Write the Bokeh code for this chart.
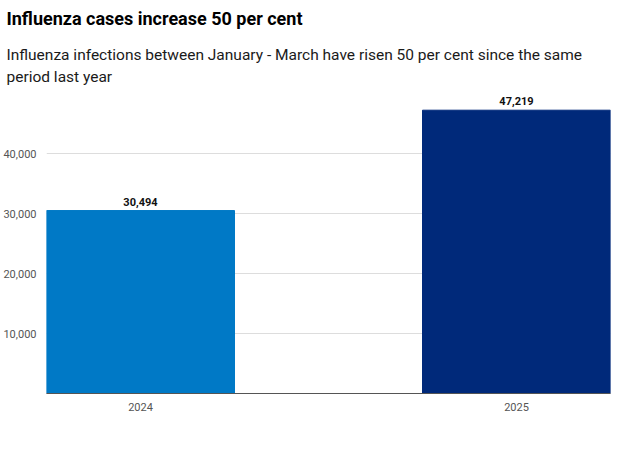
from bokeh.plotting import figure
from bokeh.models import Range1d, Title, FixedTicker, NumeralTickFormatter, ColumnDataSource, LabelSet
from bokeh.core.properties import value
from bokeh.embed import file_html
from bokeh.resources import INLINE

categories = ["2024", "2025"]
cases = [30494, 47219]
colors = ["#0079C6", "#00297A"]
labels = ["30,494", "47,219"]
y_ticks = [10000, 20000, 30000, 40000]

FONT = "Roboto"

xpos = list(range(len(categories)))
src = ColumnDataSource(dict(x=xpos, val=cases, color=colors, label=labels))

p = figure(frame_width=564, frame_height=298, output_backend="svg", toolbar_location=None,
           x_range=Range1d(-0.25, len(categories) - 0.75),
           y_range=Range1d(0, 49667),
           min_border_left=38, min_border_right=15, min_border_top=8, min_border_bottom=0)

p.vbar(x="x", top="val", width=0.5, color="color", source=src)
p.add_layout(LabelSet(x="x", y="val", text="label", source=src, y_offset=5,
                      text_align="center", text_baseline="bottom",
                      text_font=value(FONT), text_font_size=value("11px"),
                      text_font_style="bold", text_color="#111111"))

p.title.visible = False
p.add_layout(Title(text="Influenza infections between January - March have risen 50 per cent since the same\nperiod last year",
                   text_font=FONT, text_font_size="15.5px", text_font_style="normal",
                   text_line_height=1.22,
                   text_color="#1a1a1a", offset=-40, standoff=19), "above")
p.add_layout(Title(text="Influenza cases increase 50 per cent", text_font=FONT, text_font_size="18px",
                   text_font_style="bold", text_color="#000000", offset=-40, standoff=11), "above")

p.yaxis.ticker = FixedTicker(ticks=y_ticks)
p.yaxis.formatter = NumeralTickFormatter(format="0,0")
p.yaxis.axis_line_color = None
p.yaxis.major_tick_line_color = None
p.yaxis.minor_tick_line_color = None
p.yaxis.major_label_text_font = FONT
p.yaxis.major_label_text_font_size = "11px"
p.yaxis.major_label_text_color = "#555555"
p.yaxis.major_label_standoff = 4

p.xaxis.ticker = FixedTicker(ticks=xpos)
p.xaxis.major_label_overrides = {i: c for i, c in zip(xpos, categories)}
p.xaxis.axis_line_color = "#555555"
p.xaxis.major_tick_line_color = None
p.xaxis.minor_tick_line_color = None
p.xaxis.major_label_text_font = FONT
p.xaxis.major_label_text_font_size = "11px"
p.xaxis.major_label_text_color = "#555555"
p.xaxis.major_label_standoff = 3

p.xgrid.grid_line_color = None
p.ygrid.grid_line_color = "#dddddd"
p.ygrid.ticker = FixedTicker(ticks=y_ticks)
p.outline_line_color = None

open("out.html", "w").write(file_html(p, INLINE))
